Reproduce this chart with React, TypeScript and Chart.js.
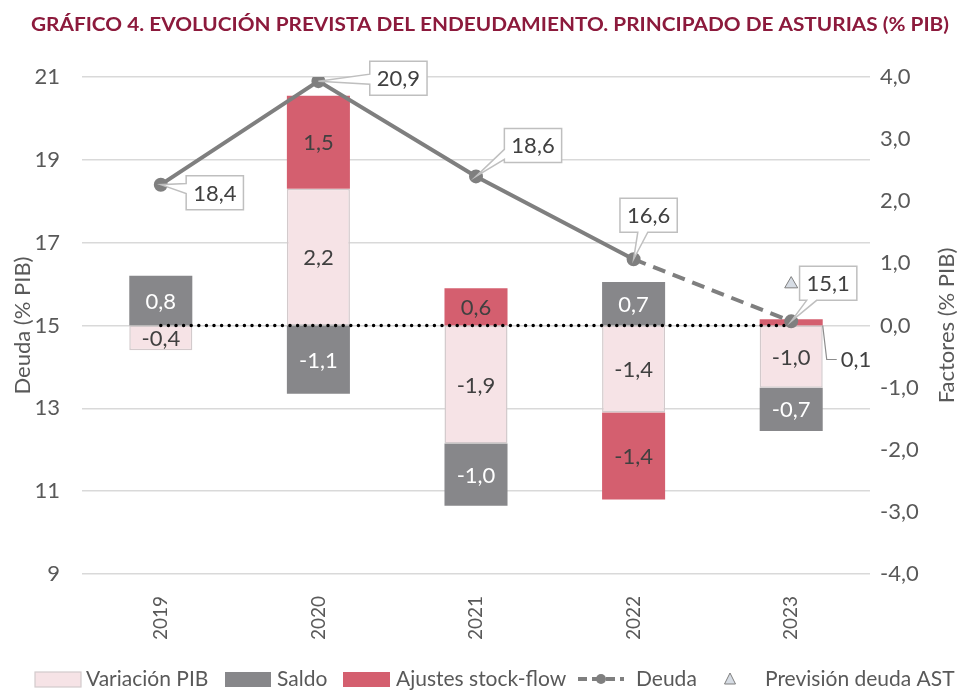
import React, { useEffect, useRef } from "react";
import { Chart, registerables } from "chart.js";
Chart.register(...registerables);

const TITLE = "GRÁFICO 4. EVOLUCIÓN PREVISTA DEL ENDEUDAMIENTO. PRINCIPADO DE ASTURIAS (% PIB)";
const YEARS = ["2019", "2020", "2021", "2022", "2023"];
const VARIACION_PIB = [-0.4, 2.2, -1.9, -1.4, -1.0];
const SALDO = [0.8, -1.1, -1.0, 0.7, -0.7];
const AJUSTES = [0, 1.5, 0.6, -1.4, 0.1];
const DEUDA = [18.4, 20.9, 18.6, 16.6, 15.1];
const PREVISION_AST = [null, null, null, null, 16.0];
const REFERENCIA = [15, 15, 15, 15, 15];
const LEFT_MIN = 9, LEFT_MAX = 21, LEFT_STEP = 2;
const RIGHT_MIN = -4, RIGHT_MAX = 4, RIGHT_STEP = 1;
const LEGEND_LABELS = ["Variación PIB", "Saldo", "Ajustes stock-flow", "Deuda", "Previsión deuda AST"];

// style-only constants
const FONT = "Lato, 'Noto Sans', sans-serif";
const TXT = "#595959";
const DARK = "#404040";
const C_PIB = "#f6e3e6";
const C_PIB_BORDER = "#d3cacc";
const C_SALDO = "#87878a";
const C_AJ = "#d45f6f";
const C_LINE = "#7f7f7f";
const LABEL_OFFSETS = [[54, 8], [80, -3], [57, -31], [15, -44], [37, -38]];
const LEGEND_X = [35, 225, 343, 578, 722];

const fmt = (v: number) => v.toFixed(1).replace(".", ",");

function drawCallout(ctx: CanvasRenderingContext2D, px: number, py: number, cx: number, cy: number, text: string) {
  ctx.font = `22px ${FONT}`;
  const tw = ctx.measureText(text).width;
  const w = tw + 14, h = 34;
  const x0 = cx - w / 2, x1 = cx + w / 2, y0 = cy - h / 2, y1 = cy + h / 2;
  const dx = px - cx, dy = py - cy;
  const pts: [number, number][] = [];
  const clamp = (v: number, a: number, b: number) => Math.max(a, Math.min(b, v));
  let edge: string;
  if (Math.abs(dx) / (w / 2) > Math.abs(dy) / (h / 2)) edge = dx < 0 ? "left" : "right";
  else edge = dy < 0 ? "top" : "bottom";
  const half = 5;
  pts.push([x0, y0]);
  if (edge === "top") {
    const ix = clamp(cx + dx * ((h / 2) / Math.abs(dy)), x0 + 8, x1 - 8);
    pts.push([ix - half, y0], [px, py], [ix + half, y0]);
  }
  pts.push([x1, y0]);
  if (edge === "right") {
    const iy = clamp(cy + dy * ((w / 2) / Math.abs(dx)), y0 + 8, y1 - 8);
    pts.push([x1, iy - half], [px, py], [x1, iy + half]);
  }
  pts.push([x1, y1]);
  if (edge === "bottom") {
    const ix = clamp(cx + dx * ((h / 2) / Math.abs(dy)), x0 + 8, x1 - 8);
    pts.push([ix + half, y1], [px, py], [ix - half, y1]);
  }
  pts.push([x0, y1]);
  if (edge === "left") {
    const iy = clamp(cy + dy * ((w / 2) / Math.abs(dx)), y0 + 8, y1 - 8);
    pts.push([x0, iy + half], [px, py], [x0, iy - half]);
  }
  ctx.beginPath();
  pts.forEach((p, i) => (i === 0 ? ctx.moveTo(p[0], p[1]) : ctx.lineTo(p[0], p[1])));
  ctx.closePath();
  ctx.fillStyle = "#ffffff";
  ctx.fill();
  ctx.strokeStyle = "#bfbfbf";
  ctx.lineWidth = 1.5;
  ctx.stroke();
  ctx.fillStyle = DARK;
  ctx.textAlign = "center";
  ctx.textBaseline = "middle";
  ctx.fillText(text, cx, cy + 1);
}

const decorPlugin = {
  id: "decor",
  afterDatasetsDraw(chart: any) {
    const ctx: CanvasRenderingContext2D = chart.ctx;
    ctx.save();
    const barSets = [
      { idx: 0, data: VARIACION_PIB, color: DARK },
      { idx: 1, data: SALDO, color: "#ffffff" },
      { idx: 2, data: AJUSTES, color: DARK },
    ];
    ctx.font = `22px ${FONT}`;
    ctx.textBaseline = "middle";
    barSets.forEach((s) => {
      const meta = chart.getDatasetMeta(s.idx);
      meta.data.forEach((el: any, i: number) => {
        const v = s.data[i];
        if (!v) return;
        const top = Math.min(el.y, el.base), bot = Math.max(el.y, el.base);
        if (Math.abs(v) < 0.2) {
          const rx = el.x + el.width / 2;
          ctx.strokeStyle = "#8c8c8c";
          ctx.lineWidth = 1.2;
          ctx.beginPath();
          ctx.moveTo(rx, bot);
          ctx.lineTo(rx + 4, bot + 34);
          ctx.lineTo(rx + 14, bot + 34);
          ctx.stroke();
          ctx.fillStyle = DARK;
          ctx.textAlign = "left";
          ctx.fillText(fmt(v), rx + 18, bot + 34);
          return;
        }
        ctx.fillStyle = s.color;
        ctx.textAlign = "center";
        ctx.fillText(fmt(v), el.x, (top + bot) / 2 + 1);
      });
    });
    const lm = chart.getDatasetMeta(3);
    lm.data.forEach((pt: any, i: number) => {
      const [ox, oy] = LABEL_OFFSETS[i];
      drawCallout(ctx, pt.x, pt.y, pt.x + ox, pt.y + oy, fmt(DEUDA[i]));
    });
    ctx.restore();
  },
  afterDraw(chart: any) {
    const ctx: CanvasRenderingContext2D = chart.ctx;
    const area = chart.chartArea;
    ctx.save();
    ctx.font = `bold 19px ${FONT}`;
    const tw = ctx.measureText(TITLE).width;
    const sx = 918 / tw;
    ctx.fillStyle = "#8c1a3c";
    ctx.textAlign = "left";
    ctx.textBaseline = "middle";
    ctx.save();
    ctx.translate(31, 25);
    ctx.scale(sx, 1);
    ctx.fillText(TITLE, 0, 0);
    ctx.restore();
    ctx.font = `22px ${FONT}`;
    ctx.fillStyle = TXT;
    ctx.textAlign = "center";
    const midY = (area.top + area.bottom) / 2;
    ctx.save();
    ctx.translate(23, midY);
    ctx.rotate(-Math.PI / 2);
    ctx.fillText("Deuda (% PIB)", 0, 0);
    ctx.restore();
    ctx.save();
    ctx.translate(947, midY);
    ctx.rotate(-Math.PI / 2);
    ctx.fillText("Factores (% PIB)", 0, 0);
    ctx.restore();
    const ly = 679;
    ctx.textAlign = "left";
    ctx.textBaseline = "middle";
    ctx.font = `21px ${FONT}`;
    ctx.fillStyle = C_PIB;
    ctx.fillRect(LEGEND_X[0], ly - 7, 46, 15);
    ctx.strokeStyle = C_PIB_BORDER;
    ctx.lineWidth = 1.2;
    ctx.strokeRect(LEGEND_X[0], ly - 7, 46, 15);
    ctx.fillStyle = TXT;
    ctx.fillText(LEGEND_LABELS[0], LEGEND_X[0] + 51, ly);
    ctx.fillStyle = C_SALDO;
    ctx.fillRect(LEGEND_X[1], ly - 7, 46, 15);
    ctx.fillStyle = TXT;
    ctx.fillText(LEGEND_LABELS[1], LEGEND_X[1] + 52, ly);
    ctx.fillStyle = C_AJ;
    ctx.fillRect(LEGEND_X[2], ly - 7, 47, 15);
    ctx.fillStyle = TXT;
    ctx.fillText(LEGEND_LABELS[2], LEGEND_X[2] + 53, ly);
    ctx.strokeStyle = C_LINE;
    ctx.lineWidth = 4;
    ctx.setLineDash([9, 5]);
    ctx.beginPath();
    ctx.moveTo(LEGEND_X[3], ly);
    ctx.lineTo(LEGEND_X[3] + 46, ly);
    ctx.stroke();
    ctx.setLineDash([]);
    ctx.fillStyle = C_LINE;
    ctx.beginPath();
    ctx.arc(LEGEND_X[3] + 23, ly, 5, 0, Math.PI * 2);
    ctx.fill();
    ctx.fillStyle = TXT;
    ctx.fillText(LEGEND_LABELS[3], LEGEND_X[3] + 58, ly);
    const tx = LEGEND_X[4] + 8;
    ctx.beginPath();
    ctx.moveTo(tx, ly - 6);
    ctx.lineTo(tx + 5.5, ly + 5);
    ctx.lineTo(tx - 5.5, ly + 5);
    ctx.closePath();
    ctx.fillStyle = "#d6dce4";
    ctx.fill();
    ctx.strokeStyle = "#7f7f7f";
    ctx.lineWidth = 1;
    ctx.stroke();
    ctx.fillStyle = TXT;
    ctx.fillText(LEGEND_LABELS[4], LEGEND_X[4] + 43, ly);
    ctx.restore();
  },
};

export default function App() {
  const ref = useRef<HTMLCanvasElement | null>(null);
  useEffect(() => {
    document.body.style.margin = "0";
    const canvas = ref.current!;
    const barCommon = { yAxisID: "y1", stack: "f", categoryPercentage: 0.4, barPercentage: 1, order: 5 };
    const chart = new Chart(canvas, {
      type: "bar",
      data: {
        labels: YEARS,
        datasets: [
          { ...barCommon, type: "bar", label: LEGEND_LABELS[0], data: VARIACION_PIB, backgroundColor: C_PIB, borderColor: C_PIB_BORDER, borderWidth: 1.5, borderSkipped: false } as any,
          { ...barCommon, type: "bar", label: LEGEND_LABELS[1], data: SALDO, backgroundColor: C_SALDO, borderWidth: 0 } as any,
          { ...barCommon, type: "bar", label: LEGEND_LABELS[2], data: AJUSTES, backgroundColor: C_AJ, borderWidth: 0 } as any,
          {
            type: "line", label: LEGEND_LABELS[3], data: DEUDA, yAxisID: "y", order: 1,
            borderColor: C_LINE, borderWidth: 4, pointRadius: 5, pointBackgroundColor: C_LINE, pointBorderColor: C_LINE,
            tension: 0,
            segment: { borderDash: (c: any) => (c.p0DataIndex === 3 ? [13, 8] : undefined) },
          } as any,
          {
            type: "line", label: "ref", data: REFERENCIA, yAxisID: "y", order: 2,
            borderColor: "#000000", borderWidth: 3.5, borderDash: [0, 7.6], borderCapStyle: "round", pointRadius: 0,
          } as any,
          {
            type: "line", label: LEGEND_LABELS[4], data: PREVISION_AST, yAxisID: "y", order: 0, showLine: false,
            pointStyle: "triangle", pointRadius: 7.5, pointBackgroundColor: "#d6dce4", pointBorderColor: "#7f7f7f", pointBorderWidth: 1,
          } as any,
        ],
      },
      options: {
        animation: false,
        responsive: false,
        devicePixelRatio: 1,
        layout: { padding: { top: 77, left: 0, right: 0, bottom: 0 } },
        plugins: { legend: { display: false }, tooltip: { enabled: false }, title: { display: false } },
        scales: {
          x: {
            stacked: true,
            grid: { display: false, drawTicks: false },
            border: { display: false },
            ticks: { color: TXT, font: { family: FONT, size: 19 }, minRotation: 90, maxRotation: 90, padding: 22 },
            afterFit: (s: any) => { s.height = 118; },
          },
          y: {
            position: "left",
            min: LEFT_MIN, max: LEFT_MAX,
            grid: { color: "#d9d9d9", lineWidth: 1.5, drawTicks: false },
            border: { display: false },
            ticks: { stepSize: LEFT_STEP, color: TXT, font: { family: FONT, size: 22 }, padding: 22 },
            afterFit: (s: any) => { s.width = 82; },
          },
          y1: {
            position: "right",
            stacked: true,
            min: RIGHT_MIN, max: RIGHT_MAX,
            grid: { display: false, drawTicks: false },
            border: { display: false },
            ticks: { stepSize: RIGHT_STEP, color: TXT, font: { family: FONT, size: 22 }, padding: 10, callback: (v: any) => fmt(Number(v)) },
            afterFit: (s: any) => { s.width = 90; },
          },
        },
      },
      plugins: [decorPlugin],
    } as any);
    return () => chart.destroy();
  }, []);
  return (
    <div style={{ width: 960, height: 692, background: "#ffffff" }}>
      <canvas ref={ref} width={960} height={692} style={{ display: "block" }} />
    </div>
  );
}
